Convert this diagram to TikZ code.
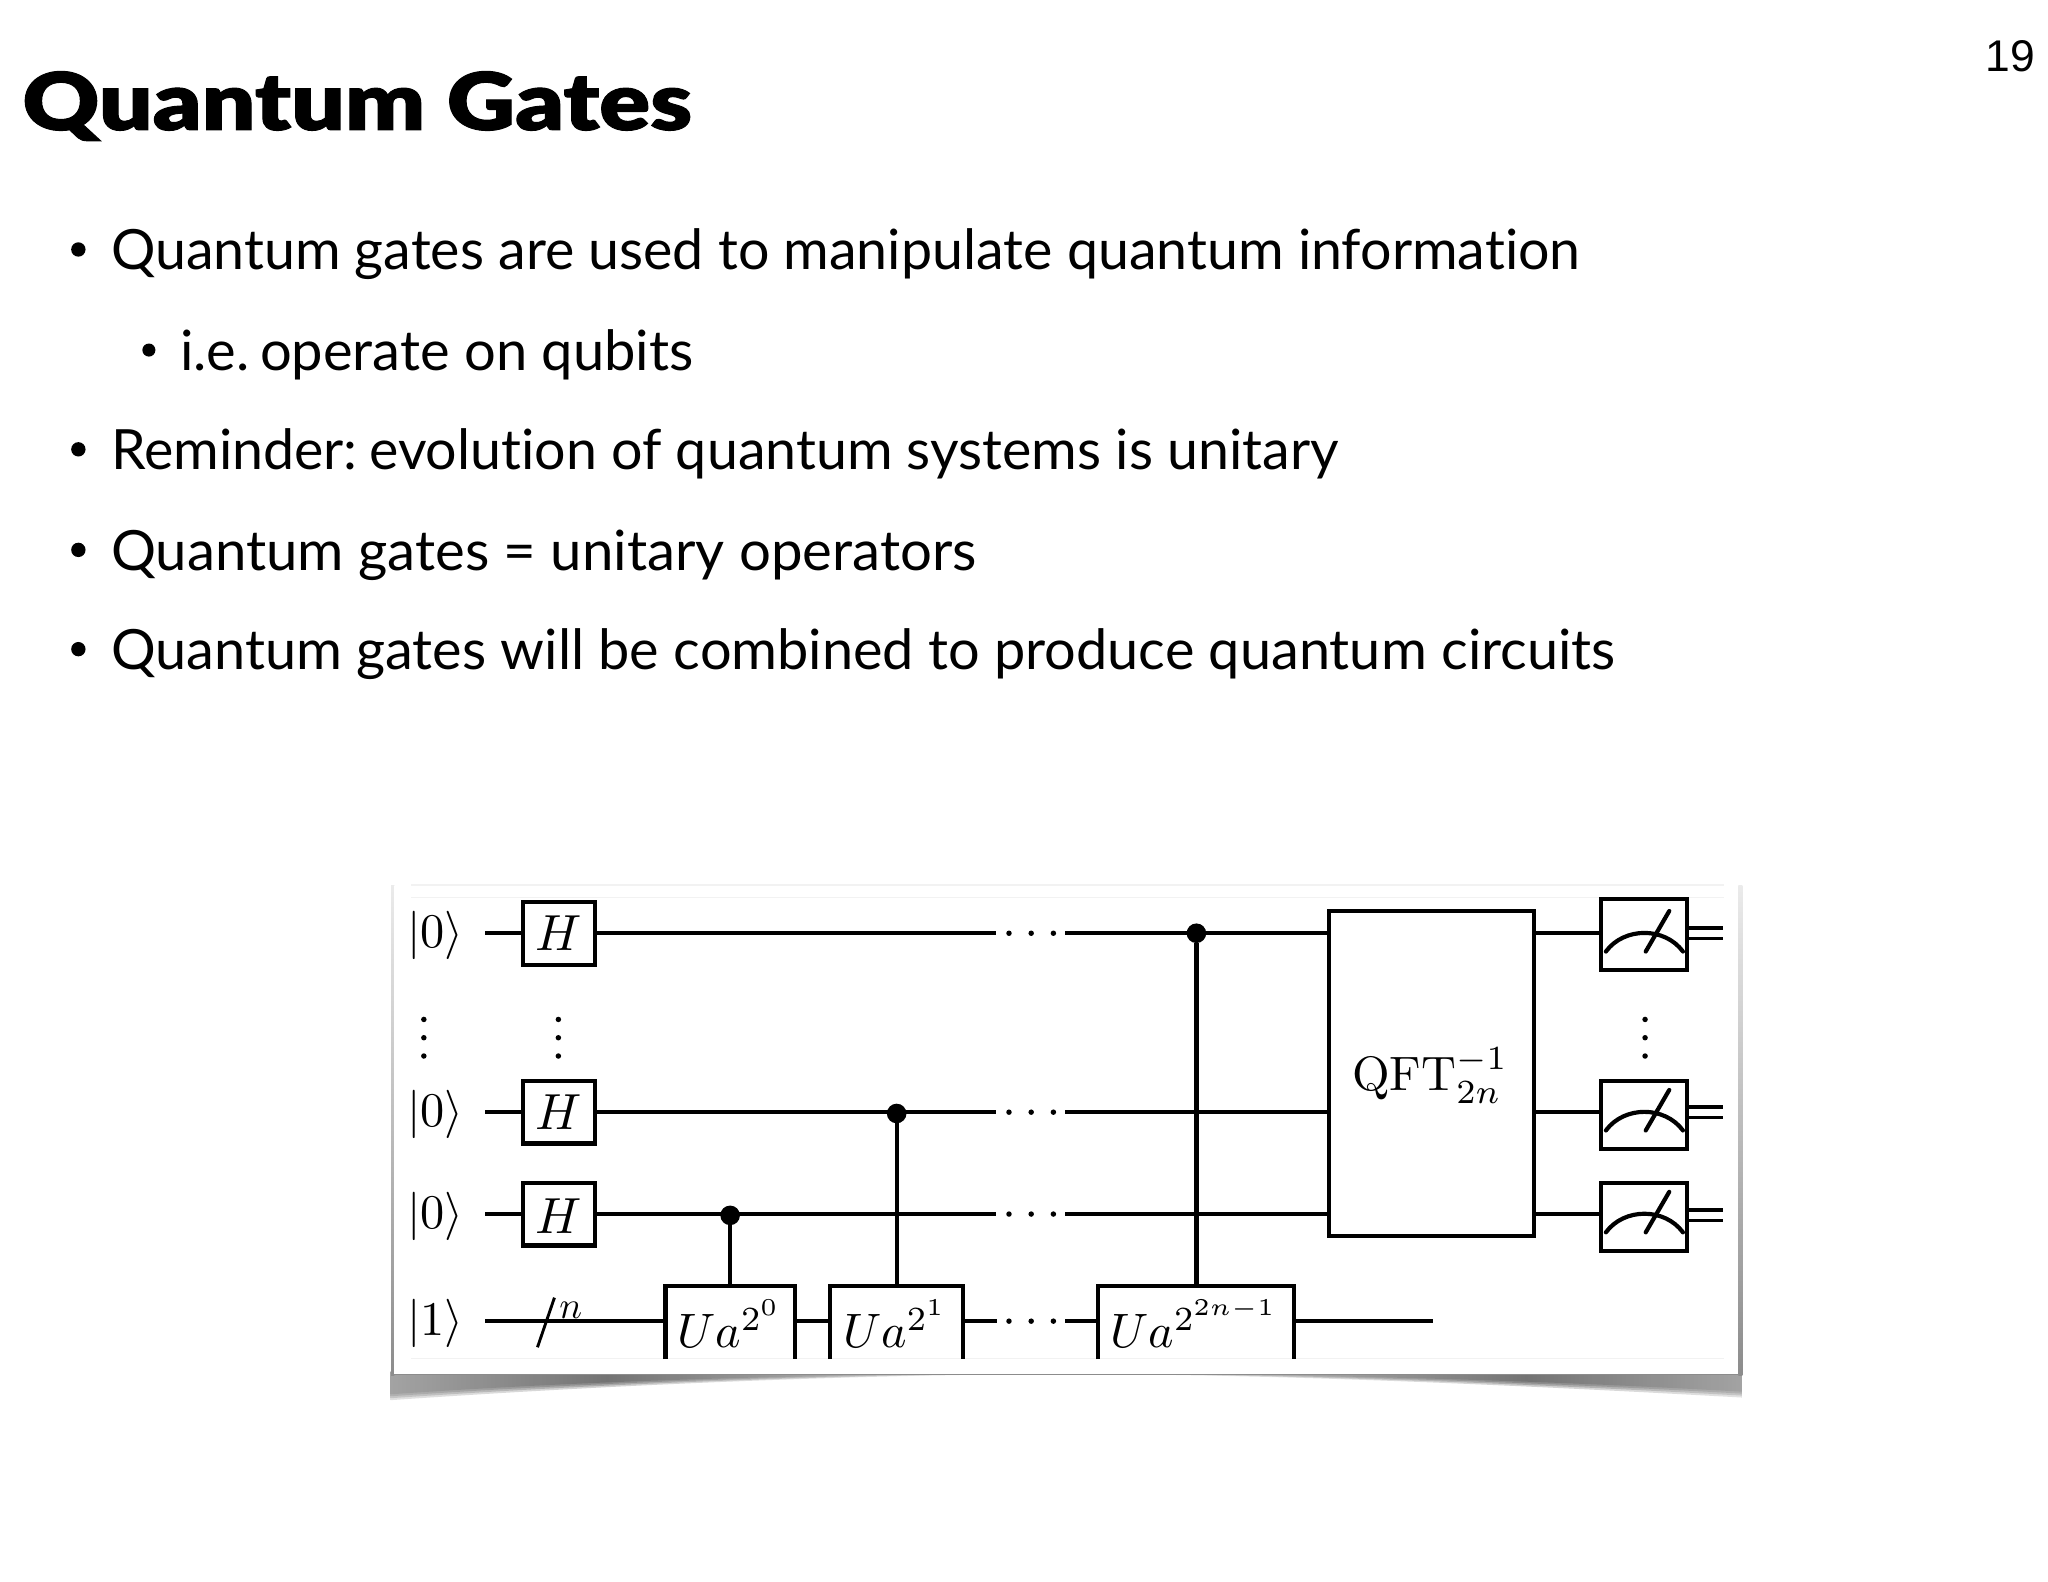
\documentclass[tikz,border=0pt]{standalone}
\usepackage[no-math]{fontspec}
\setmainfont{Lato}[Ligatures={NoCommon}]
\newfontfamily\titlefont{Lato Black}[FakeBold=1.2,Ligatures={NoCommon}]
\newfontfamily\pagefont{Liberation Sans}
\usetikzlibrary{calc}
\newcommand{\mfs}[1]{\fontsize{#1}{#1}\selectfont}
\pgfdeclarehorizontalshading{shadowsh}{100bp}{color(0bp)=(black!38); color(25bp)=(black!38); color(33bp)=(black!58); color(50bp)=(black!14); color(67bp)=(black!58); color(75bp)=(black!38); color(100bp)=(black!38)}
\tikzset{
  x=1pt,y=-1pt,
  wire/.style={line width=3.2pt,black},
  thinw/.style={line width=2.8pt,black},
  gatebox/.style={draw,line width=3.2pt,fill=white,minimum width=55pt,minimum height=48pt,inner sep=0pt,outer sep=0pt},
  ubox/.style={inner sep=0pt,outer sep=0pt,minimum height=56pt},
  meterbox/.style={draw,line width=3.2pt,fill=white,minimum width=66pt,inner sep=0pt,outer sep=0pt},
  qftbox/.style={draw,line width=3.2pt,fill=white,inner sep=0pt,outer sep=0pt,minimum width=157pt,minimum height=249pt},
  ctrl/.style={circle,fill=black,inner sep=0pt,outer sep=0pt,minimum size=15pt},
  mathlab/.style={anchor=base,inner sep=0pt,outer sep=0pt,scale=3.7},
  bodyline/.style={anchor=base west,inner sep=0pt,outer sep=0pt,font=\mfs{42.5}},
  bulletdot/.style={circle,fill=black,inner sep=0pt,outer sep=0pt,minimum size=11pt},
}
\begin{document}
\frenchspacing
\begin{tikzpicture}
\useasboundingbox (0,0) rectangle (1568,1211);
\fill[white] (0,0) rectangle (1568,1211);
% slide text
\node[anchor=base west,inner sep=0pt,xscale=1.185,font=\titlefont\mfs{61}] (title) at (17,99.5) {Quantum Gates};
\node[anchor=base east,inner sep=0pt,font=\pagefont\mfs{34}] (pageno) at (1558,55) {19};
\node[bulletdot] (b1) at (60,191) {};
\node[bodyline] (l1) at (85,206.5) {Quantum gates are used to manipulate quantum information};
\node[bulletdot,minimum size=10pt] (b2) at (114,268) {};
\node[bodyline,xscale=1.01] (l2) at (138,283.5) {i.e.\kern-3pt{} operate on qubits};
\node[bulletdot] (b3) at (60,344) {};
\node[bodyline] (l3) at (85,359.5) {Reminder:\kern-2pt{} evolution of quantum systems is unitary};
\node[bulletdot] (b4) at (60,421) {};
\node[bodyline,xscale=1.014] (l4) at (85,436.5) {Quantum gates = unitary operators};
\node[bulletdot] (b5) at (60,497) {};
\node[bodyline,xscale=1.006] (l5) at (85,512.5) {Quantum gates will be combined to produce quantum circuits};
% panel and shadow
\foreach \d/\o in {0/0.3,-1.5/0.4,-3/0.5,-4.5/0.7}{
  \shade[shading=shadowsh,opacity=\o]
    (299,1050) -- (1334,1050) -- (1334,1070+\d) .. controls (1120,1058+\d) and (950,1052) .. (816,1052)
    .. controls (690,1052) and (500,1058+\d) .. (299,1072+\d) -- cycle;
}
\shade[top color=black!8,bottom color=black!45] (299.5,678) rectangle (302,1053);
\shade[top color=black!8,bottom color=black!45] (1331,678) rectangle (1334,1053);
\fill[white] (302,678) rectangle (1331,1052);
\draw[black!45,line width=0.8pt] (302,1052) -- (1331,1052);
\draw[black!5,line width=1pt] (315,677.5) -- (1320,677.5);
\draw[black!5,line width=1pt] (315,687) -- (1320,687);
\draw[black!5,line width=1pt] (315,1040) -- (1320,1040);
\begin{scope}[shift={(0.5,0.5)}]
% wire ends
\coordinate (s1) at (371,714);
\coordinate (s2) at (371,851);
\coordinate (s3) at (371,929);
\coordinate (s4) at (371,1011);
\coordinate (a1) at (762,714); \coordinate (c1) at (815,714);
\coordinate (a2) at (762,851); \coordinate (c2) at (815,851);
\coordinate (a3) at (762,929); \coordinate (c3) at (815,929);
\coordinate (a4) at (763,1011); \coordinate (c4) at (815,1011);
\coordinate (e4) at (1097,1011);
\coordinate (dbl1) at (1318.5,714);
\coordinate (dbl2) at (1318.5,851);
\coordinate (dbl3) at (1318.5,930);
% gates
\node[gatebox] (h1) at (427.5,714) {};
\node[gatebox] (h2) at (427.5,851) {};
\node[gatebox] (h3) at (427.5,929) {};
\node[ubox,minimum width=99pt] (u0) at (558.5,1012) {};
\node[ubox,minimum width=102pt] (u1) at (686,1012) {};
\node[ubox,minimum width=150pt] (u2) at (915,1012) {};
\node[qftbox] (qft) at (1095.5,821.5) {};
\node[meterbox,minimum height=54pt] (m1) at (1258,715) {};
\node[meterbox,minimum height=52pt] (m2) at (1258,853) {};
\node[meterbox,minimum height=52pt] (m3) at (1258,931) {};
% wires
\draw[wire] (s1) -- (h1.west);
\draw[wire] (s2) -- (h2.west);
\draw[wire] (s3) -- (h3.west);
\draw[wire] (h1.east) -- (a1);
\draw[wire] (h2.east) -- (a2);
\draw[wire] (h3.east) -- (a3);
\draw[wire] (c1) -- (c1 -| qft.west);
\draw[wire] (c2) -- (c2 -| qft.west);
\draw[wire] (c3) -- (c3 -| qft.west);
\draw[wire] (c1 -| qft.east) -- (c1 -| m1.west);
\draw[wire] (c2 -| qft.east) -- (c2 -| m2.west);
\draw[wire] (c3 -| qft.east) -- (c3 -| m3.west);
\draw[wire] (s4) -- (s4 -| u0.west);
\draw[wire] (s4 -| u0.east) -- (s4 -| u1.west);
\draw[wire] (s4 -| u1.east) -- (a4);
\draw[wire] (c4) -- (c4 -| u2.west);
\draw[wire] (c4 -| u2.east) -- (e4);
% double wires
\draw[thinw] ($(m1.east |- dbl1)+(0,-4)$) -- ($(dbl1)+(0,-4)$);
\draw[thinw] ($(m1.east |- dbl1)+(0,4)$) -- ($(dbl1)+(0,4)$);
\draw[thinw] ($(m2.east |- dbl2)+(0,-4)$) -- ($(dbl2)+(0,-4)$);
\draw[thinw] ($(m2.east |- dbl2)+(0,4)$) -- ($(dbl2)+(0,4)$);
\draw[thinw] ($(m3.east |- dbl3)+(0,-4)$) -- ($(dbl3)+(0,-4)$);
\draw[thinw] ($(m3.east |- dbl3)+(0,4)$) -- ($(dbl3)+(0,4)$);
% open-bottom U boxes
\draw[wire,line join=miter] (u0.south west) -- (u0.north west) -- (u0.north east) -- (u0.south east);
\draw[wire,line join=miter] (u1.south west) -- (u1.north west) -- (u1.north east) -- (u1.south east);
\draw[wire,line join=miter] (u2.south west) -- (u2.north west) -- (u2.north east) -- (u2.south east);
% controls
\node[ctrl] (k0) at (558.5,930) {};
\node[ctrl] (k1) at (686,852) {};
\node[ctrl] (k2) at (915.5,714) {};
\draw[wire] (k0) -- (k0 |- u0.north);
\draw[wire] (k1) -- (k1 |- u1.north);
\draw[wire] (k2) -- (k2 |- u2.north);
% meters
\foreach \m/\w in {m1/714,m2/851,m3/929}{
  \draw[wire,line cap=round] ($(\m.center |- 0,\w)+(-29,14)$) .. controls +(14,-19) and +(-14,-19) .. +(59,0);
  \draw[wire,line cap=round] ($(\m.center |- 0,\w)+(1.5,14)$) -- +(18,-31);
}
% labels
\node[mathlab] (k10) at (333,725) {$|0\rangle$};
\node[mathlab] (k20) at (333,862) {$|0\rangle$};
\node[mathlab] (k30) at (333,940) {$|0\rangle$};
\node[mathlab] (k41) at (333,1022) {$|1\rangle$};
\node[mathlab,scale=1.05] (t1) at (h1 |- 0,727.5) {$H$};
\node[mathlab,scale=1.05] (t2) at (h2 |- 0,864.5) {$H$};
\node[mathlab,scale=1.05] (t3) at (h3 |- 0,943.5) {$H$};
\node[mathlab] (t4) at (558,1031.5) {$Ua^{2^{0}}$};
\node[mathlab] (t5) at (685,1031.5) {$Ua^{2^{1}}$};
\node[mathlab] (t6) at (914,1031.5) {$Ua^{2^{2n-1}}$};
\node[mathlab] (t7) at (1094.5,834.5) {$\mathrm{QFT}_{2n}^{-1}$};
\node[anchor=base,inner sep=0pt,scale=2.9] (nn) at (436.5,1009) {$n$};
\draw[line width=2.2pt] (411,1031) -- (424,993);
% dots
\foreach \p/\q in {324/780,324/794,324/808,427/780,427/794,427/808,1259/780,1259/794,1259/808}{
  \fill (\p,\q) circle (2.1pt);
}
\foreach \q in {714,851,929,1011}{
  \fill (772,\q) circle (2.1pt);
  \fill (789,\q) circle (2.1pt);
  \fill (806,\q) circle (2.1pt);
}
\end{scope}
\end{tikzpicture}
\end{document}
